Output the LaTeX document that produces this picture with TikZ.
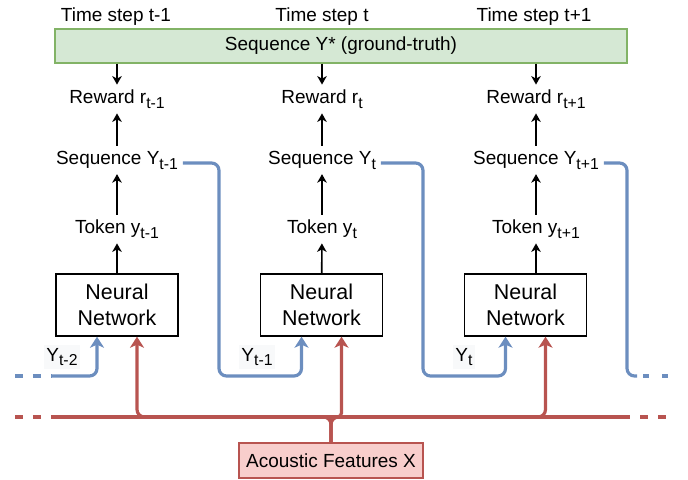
\documentclass[tikz,border=0pt]{standalone}
\usepackage{fontspec}
\setmainfont{Liberation Sans}
\usetikzlibrary{arrows.meta}
\definecolor{gtfill}{HTML}{D5E8D4}
\definecolor{gtline}{HTML}{82B366}
\definecolor{axfill}{HTML}{F8CECC}
\definecolor{axline}{HTML}{B85450}
\definecolor{fbline}{HTML}{6C8EBF}
\definecolor{lblbg}{HTML}{F8F9FA}
\newcommand{\subidx}[1]{\raisebox{-2.8pt}{\fontsize{9}{10}\selectfont #1}}
\begin{document}
\begin{tikzpicture}[x=0.02cm, y=-0.02cm, font=\fontsize{10.8}{13}\selectfont,
  lbl/.style={inner sep=0pt, outer sep=0.1cm},
  net/.style={draw, line width=0.8pt, minimum width=2.44cm, minimum height=1.24cm, align=center, font=\fontsize{12.2}{14.8}\selectfont},
  fb/.style={draw=fbline, line width=1.8pt, rounded corners=0.15cm},
  ax/.style={draw=axline, line width=1.8pt, rounded corners=0.15cm},
  tip/.style={-{Stealth[length=0.17cm, width=0.19cm, inset=0.05cm]}, line width=0.9pt},
  fbtip/.style={-{Stealth[length=0.22cm, width=0.28cm, inset=0.06cm]}},
  yl/.style={fill=lblbg, inner sep=1.5pt}]
    \useasboundingbox (0,0) rectangle (688,479);
    % time steps and ground truth
    \node   (ts1) at (116,17) {Time step t-1};
    \node   (ts2) at (322,17) {Time step t};
    \node   (ts3) at (534,17) {Time step t+1};
    \node   (gt) at (341,46) [draw=gtline, fill=gtfill, line width=0.8pt, minimum width=11.44cm, minimum height=0.68cm] {Sequence Y* (ground-truth)};
    % rewards, sequences, tokens
    \node   (rw1) at (117,99) [lbl] {Reward r\subidx{t-1}};
    \node   (rw2) at (322,99) [lbl] {Reward r\subidx{t}};
    \node   (rw3) at (536,99) [lbl] {Reward r\subidx{t+1}};
    \node   (sq1) at (117,160) [lbl] {Sequence Y\subidx{t-1}};
    \node   (sq2) at (322,160) [lbl] {Sequence Y\subidx{t}};
    \node   (sq3) at (536,160) [lbl] {Sequence Y\subidx{t+1}};
    \node   (tk1) at (117,229) [lbl] {Token y\subidx{t-1}};
    \node   (tk2) at (322,229) [lbl] {Token y\subidx{t}};
    \node   (tk3) at (536,229) [lbl] {Token y\subidx{t+1}};
    % networks
    \node   (nn1) at (117,305) [net] {Neural\\Network};
    \node   (nn2) at (321.5,305) [net] {Neural\\Network};
    \node   (nn3) at (525.5,305) [net] {Neural\\Network};
    \node   (ac) at (331,460.5) [draw=axline, fill=axfill, line width=0.8pt, minimum width=3.68cm, minimum height=0.7cm] {Acoustic Features X};
    % previous outputs
    \node   (yl1) at (62,357) [yl] {Y\subidx{t-2}};
    \node   (yl2) at (257,357) [yl] {Y\subidx{t-1}};
    \node   (yl3) at (464,357) [yl] {Y\subidx{t}};
    \draw
    (gt.south -| rw1) edge[tip] (rw1)
    (gt.south -| rw2) edge[tip] (rw2)
    (gt.south -| rw3) edge[tip] (rw3)
    (sq1) edge[tip] (rw1)
    (sq2) edge[tip] (rw2)
    (sq3) edge[tip] (rw3)
    (tk1) edge[tip] (sq1)
    (tk2) edge[tip] (sq2)
    (tk3) edge[tip] (sq3)
    (nn1) edge[tip] (tk1)
    (nn2) edge[tip] (tk2)
    (nn3.north -| tk3) edge[tip] (tk3)
    ;
    % feedback of the sequence
    \coordinate (fbl0) at (15,376);
    \coordinate (fbl1) at (52,376);
    \coordinate (b2) at (219,376);
    \coordinate (b3) at (423,376);
    \coordinate (b4) at (627,376);
    \coordinate (fbr0) at (637,376);
    \coordinate (fbr1) at (643,376);
    \coordinate (fbr2) at (668,376);
    \draw[fb, dash pattern=on 0.16cm off 0.2cm] (fbl0) -- (fbl1);
    \draw[fb, fbtip] (fbl1) -| ([xshift=-0.4cm]nn1.south);
    \draw[fb, fbtip] ([yshift=-0.06cm]sq1.east) -| (b2) -| ([xshift=-0.4cm]nn2.south);
    \draw[fb, fbtip] ([yshift=-0.06cm]sq2.east) -| (b3) -| ([xshift=-0.4cm]nn3.south);
    \draw[fb] ([yshift=-0.06cm]sq3.east) -| (b4) -- (fbr0);
    \draw[fb, dash pattern=on 0.12cm off 0.26cm] (fbr1) -- (fbr2);
    % acoustic features
    \coordinate (axl0) at (15,417);
    \coordinate (axl1) at (52,417);
    \coordinate (axr1) at (630,417);
    \coordinate (axr0) at (640,417);
    \coordinate (axr2) at (667,417);
    \draw[ax, dash pattern=on 0.16cm off 0.2cm] (axl0) -- (axl1);
    \draw[ax] (axl1) -- (axr1);
    \draw[ax, dash pattern=on 0.16cm off 0.2cm] (axr0) -- (axr2);
    \draw[ax, fbtip] (ac.north) -- (ac.north |- axl1) -| ([xshift=0.4cm]nn1.south);
    \draw[ax, fbtip, rounded corners=0.08cm] (ac.north) -- (ac.north |- axl1) -| ([xshift=0.4cm]nn2.south);
    \draw[ax, fbtip] (ac.north) -- (ac.north |- axl1) -| ([xshift=0.4cm]nn3.south);
\end{tikzpicture}
\end{document}
